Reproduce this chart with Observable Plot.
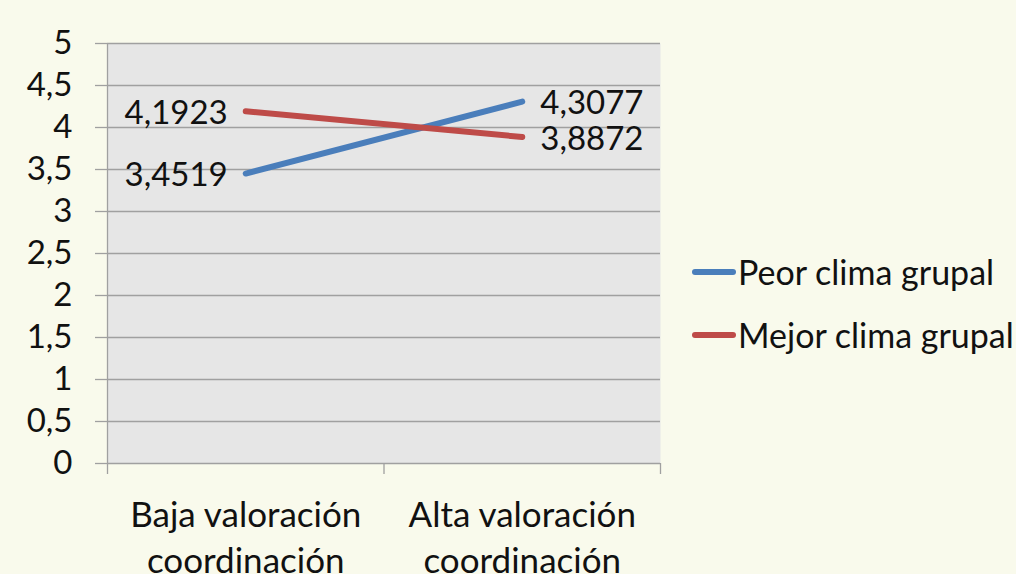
<!DOCTYPE html>
<html>
<head>
<meta charset="utf-8">
<script src="https://cdn.jsdelivr.net/npm/d3@7"></script>
<script src="https://cdn.jsdelivr.net/npm/@observablehq/plot@0.6"></script>
<style>
  html, body { margin: 0; padding: 0; background: #f9faec; overflow: hidden; width: 1016px; height: 574px; }
  #wrap { position: relative; width: 1016px; height: 574px; font-family: Lato, "Open Sans", sans-serif; }
  #legend { position: absolute; left: 692px; top: 240px; font-size: 34px; color: #111; white-space: nowrap; }
  .item { display: flex; align-items: center; height: 63px; }
  .swatch { width: 44px; height: 6px; border-radius: 3px; margin-right: 2px; }
</style>
</head>
<body>
<div id="wrap"></div>
<script>
const categories = ["Baja valoración\ncoordinación", "Alta valoración\ncoordinación"];
const seriesNames = ["Peor clima grupal", "Mejor clima grupal"];
const peorValues = [3.4519, 4.3077];
const mejorValues = [4.1923, 3.8872];
const yTicks = [0, 0.5, 1, 1.5, 2, 2.5, 3, 3.5, 4, 4.5, 5];
const seriesColors = ["#4a7ebb", "#be4b48"];

const comma = v => String(v).replace(".", ",");
const rows = [];
[peorValues, mejorValues].forEach((vals, s) => {
  vals.forEach((v, i) => rows.push({x: i + 0.5, cat: categories[i], value: v, series: seriesNames[s], idx: i}));
});
const first = rows.filter(d => d.idx === 0);
const last = rows.filter(d => d.idx === 1);

const plot = Plot.plot({
  width: 1016,
  height: 574,
  marginLeft: 107,
  marginRight: 356,
  marginTop: 43,
  marginBottom: 111,
  style: {background: "transparent", fontFamily: "Lato, 'Open Sans', sans-serif", color: "#111"},
  x: {domain: [0, 2]},
  y: {domain: [0, 5]},
  color: {domain: seriesNames, range: seriesColors},
  marks: [
    Plot.frame({fill: "#e6e6e6", stroke: null}),
    Plot.gridY(yTicks, {stroke: "#a0a0a0", strokeOpacity: 1, strokeWidth: 1.3}),
    Plot.axisY({ticks: yTicks, tickSize: 12, tickPadding: 23, tickFormat: comma, fontSize: 33, stroke: "#a0a0a0", strokeWidth: 1.3, label: null}),
    Plot.ruleX([0], {stroke: "#a0a0a0", strokeWidth: 1.3}),
    Plot.axisX({ticks: [0, 1, 2], tickSize: 11, tickFormat: () => "", stroke: "#a0a0a0", strokeWidth: 1.3, label: null}),
    Plot.axisX({ticks: [0.5, 1.5], tickSize: 0, tickPadding: 30, tickFormat: v => categories[Math.floor(v)], fontSize: 35, lineHeight: 1.33, label: null}),
    Plot.line(rows, {x: "x", y: "value", z: "series", stroke: "series", strokeWidth: 6, strokeLinecap: "round"}),
    Plot.text(first, {x: "x", y: "value", text: d => comma(d.value), textAnchor: "end", dx: -18, dy: 2, fontSize: 33, fill: "#111"}),
    Plot.text(last, {x: "x", y: "value", text: d => comma(d.value), textAnchor: "start", dx: 18, dy: 2, fontSize: 33, fill: "#111"})
  ]
});
const wrap = document.getElementById("wrap");
wrap.appendChild(plot);

const legend = document.createElement("div");
legend.id = "legend";
seriesNames.forEach((name, i) => {
  const item = document.createElement("div");
  item.className = "item";
  const sw = document.createElement("div");
  sw.className = "swatch";
  sw.style.background = seriesColors[i];
  const label = document.createElement("span");
  label.textContent = name;
  item.appendChild(sw);
  item.appendChild(label);
  legend.appendChild(item);
});
wrap.appendChild(legend);
</script>
</body>
</html>
